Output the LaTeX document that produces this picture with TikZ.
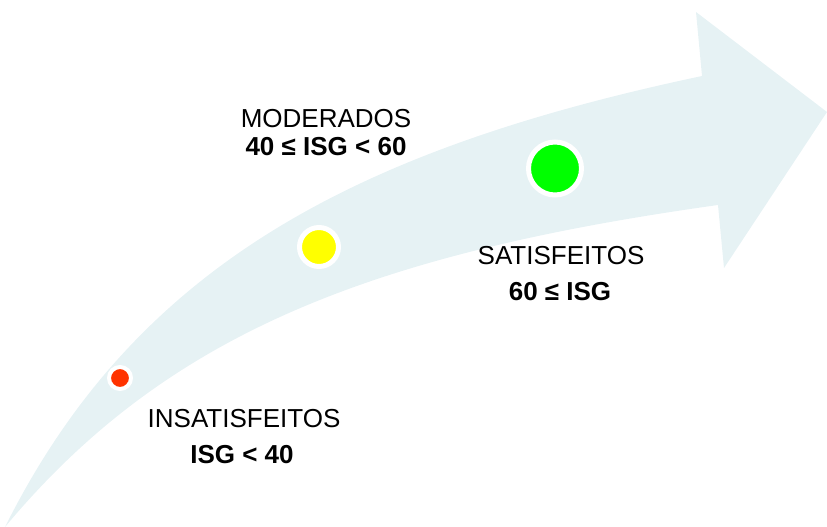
\documentclass[tikz,border=0pt]{standalone}
\usepackage{fontspec}
\setmainfont{Liberation Sans}
\definecolor{bandcol}{HTML}{E6F2F4}
\definecolor{dotred}{RGB}{255,51,0}
\definecolor{dotyellow}{RGB}{255,255,0}
\definecolor{dotgreen}{RGB}{0,255,0}
\begin{document}
\begin{tikzpicture}[x=1pt,y=-1pt,
  dotmark/.style={circle, draw=white, inner sep=0pt},
  lbl/.style={anchor=base, inner sep=0pt, font=\fontsize{26}{31}\selectfont},
  lblb/.style={lbl, font=\fontsize{26}{31}\selectfont\bfseries}]
\useasboundingbox (0,0) rectangle (827,527);
\fill[bandcol] (5,527) .. controls (135,267) and (352,150) .. (702,76)
  -- (696,12) -- (827,112) -- (724,268) -- (718,205)
  .. controls (368,254) and (165,335) .. (5,527) -- cycle;
\node[dotmark, fill=dotred, line width=4pt, minimum size=22pt] (red) at (120,378) {};
\node[dotmark, fill=dotyellow, line width=5pt, minimum size=39pt] (yellow) at (319,247) {};
\node[dotmark, fill=dotgreen, line width=5pt, minimum size=53pt] (green) at (555,168.5) {};
\node[lbl] (modt) at (326,127) {MODERADOS};
\node[lblb] (modv) at (326,155) {40 ≤ ISG < 60};
\node[lbl] (satt) at (561,264) {SATISFEITOS};
\node[lblb] (satv) at (560,300) {60 ≤ ISG};
\node[lbl] (inst) at (244,427) {INSATISFEITOS};
\node[lblb] (insv) at (242,463) {ISG < 40};
\end{tikzpicture}
\end{document}
